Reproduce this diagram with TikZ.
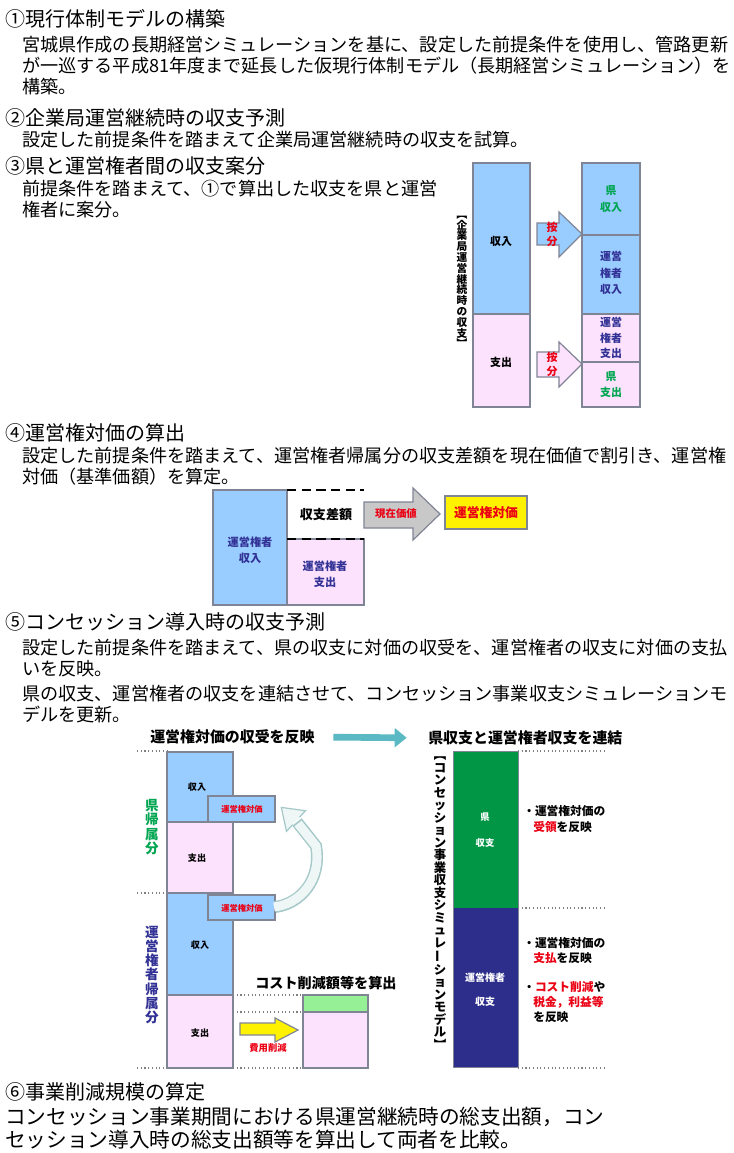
\documentclass[tikz,border=0pt]{standalone}
\usepackage{fontspec}
\usepackage{graphicx}
\setmainfont{Noto Sans CJK JP}
\usetikzlibrary{arrows.meta}
\definecolor{lblue}{RGB}{153,204,255}
\definecolor{lpink}{RGB}{253,226,253}
\definecolor{bgray}{RGB}{128,133,150}
\definecolor{kgreen}{RGB}{0,166,81}
\definecolor{knavy}{RGB}{50,50,150}
\definecolor{kred}{RGB}{235,0,20}
\definecolor{boxgreen}{RGB}{0,150,70}
\definecolor{boxnavy}{RGB}{45,45,140}
\definecolor{tealarr}{RGB}{90,185,195}
\definecolor{lgreen}{RGB}{150,240,150}
\definecolor{arrgray}{RGB}{200,200,200}
\definecolor{curvline}{RGB}{165,200,200}
\definecolor{curvfill}{RGB}{238,246,246}
\newcommand{\vbar}{\makebox[1em]{\rotatebox[origin=c]{90}{ー}}}
\tikzset{
  head/.style={anchor=west, inner sep=0, font=\fontsize{15}{18}\selectfont},
  body/.style={anchor=west, inner sep=0, font=\fontsize{13.6}{16}\selectfont},
  bigbody/.style={anchor=west, inner sep=0, font=\fontsize{15.5}{18}\selectfont},
  bbox/.style={draw=bgray, line width=1pt, fill=lblue},
  pbox/.style={draw=bgray, line width=1pt, fill=lpink},
  lab/.style={inner sep=0, align=center, font=\bfseries\fontsize{8.2}{12}\selectfont},
  tiny/.style={inner sep=0, align=center, font=\bfseries\fontsize{6.2}{7}\selectfont},
  vlab/.style={inner sep=0, align=center},
  dotl/.style={draw=gray, dotted, line width=0.8pt},
  title/.style={inner sep=0, font=\bfseries\fontsize{11.2}{13}\selectfont},
  note/.style={anchor=west, inner sep=0, font=\bfseries\fontsize{8.8}{10}\selectfont},
  blockarr/.style={draw=bgray, line width=0.9pt},
}
\begin{document}
\begin{tikzpicture}[x=0.75pt, y=-0.75pt]
\useasboundingbox (0,0) rectangle (733,1153);
\fill[white] (0,0) rectangle (733,1153);

% ---------- text sections ----------
\node[head] (h1) at (5,19) {①現行体制モデルの構築};
\node[body] (t11) at (22,45) {宮城県作成の長期経営シミュレーションを基に、設定した前提条件を使用し、管路更新};
\node[body] (t12) at (22,66) {が一巡する平成81年度まで延長した仮現行体制モデル（長期経営シミュレーション）を};
\node[body] (t13) at (22,87) {構築。};
\node[head] (h2) at (5,118) {②企業局運営継続時の収支予測};
\node[body] (t21) at (22,140) {設定した前提条件を踏まえて企業局運営継続時の収支を試算。};
\node[head] (h3) at (5,166) {③県と運営権者間の収支案分};
\node[body] (t31) at (22,189) {前提条件を踏まえて、①で算出した収支を県と運営};
\node[body] (t32) at (22,210) {権者に案分。};
\node[head] (h4) at (5,433) {④運営権対価の算出};
\node[body] (t41) at (22,456) {設定した前提条件を踏まえて、運営権者帰属分の収支差額を現在価値で割引き、運営権};
\node[body] (t42) at (22,477) {対価（基準価額）を算定。};
\node[head] (h5) at (5,622) {⑤コンセッション導入時の収支予測};
\node[body] (t51) at (22,648) {設定した前提条件を踏まえて、県の収支に対価の収受を、運営権者の収支に対価の支払};
\node[body] (t52) at (22,669) {いを反映。};
\node[body] (t53) at (22,694) {県の収支、運営権者の収支を連結させて、コンセッション事業収支シミュレーションモ};
\node[body] (t54) at (22,715) {デルを更新。};
\node[head] (h6) at (5,1092) {⑥事業削減規模の算定};
\node[bigbody] (t61) at (5,1117) {コンセッション事業期間における県運営継続時の総支出額，コン};
\node[bigbody] (t62) at (5,1140) {セッション導入時の総支出額等を算出して両者を比較。};

% ---------- section 3 diagram ----------
\draw[bbox] (473,163) rectangle (530,314);
\draw[pbox] (473,314) rectangle (530,407);
\node[lab] (s3in) at (501,241) {収入};
\node[lab] (s3out) at (501,362) {支出};
\node[vlab, font=\bfseries\fontsize{8}{8.1}\selectfont] (s3lab) at (462,282)
  {︻\\企\\業\\局\\運\\営\\継\\続\\時\\の\\収\\支\\︼};
\draw[bbox] (582,163) rectangle (640,235);
\draw[bbox] (582,235) rectangle (640,314);
\draw[pbox] (582,314) rectangle (640,362);
\draw[pbox] (582,362) rectangle (640,407);
\node[lab, text=kgreen, font=\bfseries\fontsize{8.2}{12.5}\selectfont] (kin) at (611,199) {県\\収入};
\node[lab, text=knavy, font=\bfseries\fontsize{8.2}{12.5}\selectfont] (oin) at (611,273) {運営\\権者\\収入};
\node[lab, text=knavy, font=\bfseries\fontsize{8.2}{11.5}\selectfont] (oout) at (611,338) {運営\\権者\\支出};
\node[lab, text=kgreen, font=\bfseries\fontsize{8.2}{12}\selectfont] (kout) at (611,385) {県\\支出};
\draw[blockarr, fill=lblue] (537,223) -- (559,223) -- (559,212) -- (582,234) -- (559,257) -- (559,245) -- (537,245) -- cycle;
\draw[blockarr, fill=lpink] (537,352) -- (559,352) -- (559,342) -- (582,364) -- (559,387) -- (559,377) -- (537,377) -- cycle;
\node[lab, text=kred, font=\bfseries\fontsize{8.2}{10.5}\selectfont] (anb1) at (552,234) {按\\分};
\node[lab, text=kred, font=\bfseries\fontsize{8.2}{10.5}\selectfont] (anb2) at (552,364) {按\\分};

% ---------- section 4 diagram ----------
\draw[bbox] (213,490) rectangle (287,605);
\draw[pbox] (287,539) rectangle (364,605);
\draw[line width=1.6pt, dash pattern=on 7pt off 4pt] (287,490) -- (364,490);
\draw[line width=1.6pt, dash pattern=on 7pt off 4pt] (287,539) -- (364,539);
\node[lab, text=knavy, font=\bfseries\fontsize{8.4}{12}\selectfont] (s4in) at (250,550) {運営権者\\収入};
\node[lab, text=knavy, font=\bfseries\fontsize{8.4}{12}\selectfont] (s4out) at (325,574) {運営権者\\支出};
\node[lab, font=\bfseries\fontsize{9.8}{12}\selectfont] (sagaku) at (326,515) {収支差額};
\draw[blockarr, fill=arrgray] (364,502) -- (413,502) -- (413,488) -- (440,514) -- (413,540) -- (413,528) -- (364,528) -- cycle;
\node[lab, text=kred, font=\bfseries\fontsize{7.8}{10}\selectfont] (genzai) at (396,514) {現在価値};
\draw[draw=bgray, line width=1pt, fill=yellow] (445,496) rectangle (527,529);
\node[lab, text=kred, font=\bfseries\fontsize{9.6}{12}\selectfont] (taika) at (486,513) {運営権対価};

% ---------- section 5 left ----------
\node[title, anchor=west] (ttl1) at (150,737) {運営権対価の収受を反映};
\node[title, anchor=west] (ttl2) at (428,738) {県収支と運営権者収支を連結};
\draw[tealarr, line width=5pt, -{Triangle[length=9pt, width=14pt]}, shorten <=14pt, shorten >=16pt] (ttl1.east) -- (ttl2.west);

\draw[dotl] (137,751) -- (167,751);
\draw[dotl] (137,893) -- (167,893);
\draw[dotl] (137,1068) -- (167,1068);
\draw[bbox] (167,752) rectangle (233,822);
\draw[pbox] (167,822) rectangle (233,893);
\draw[bbox] (167,893) rectangle (233,995);
\draw[pbox] (167,995) rectangle (233,1068);
\draw[bbox] (208,796) rectangle (275,822);
\draw[bbox] (208,895) rectangle (275,920);
\node[tiny, font=\bfseries\fontsize{6.8}{8}\selectfont] (l5in1) at (197,787) {収入};
\node[tiny, font=\bfseries\fontsize{6.8}{8}\selectfont] (l5out1) at (197,858) {支出};
\node[tiny, font=\bfseries\fontsize{6.8}{8}\selectfont] (l5in2) at (200,945) {収入};
\node[tiny, font=\bfseries\fontsize{6.8}{8}\selectfont] (l5out2) at (200,1033) {支出};
\node[tiny, text=kred] (tk1) at (242,809) {運営権対価};
\node[tiny, text=kred] (tk2) at (242,908) {運営権対価};
\node[vlab, text=kgreen, font=\bfseries\fontsize{10.2}{10.7}\selectfont] (kenkizoku) at (152,827) {県\\帰\\属\\分};
\node[vlab, text=knavy, font=\bfseries\fontsize{10.2}{10.7}\selectfont] (unkizoku) at (152,975) {運\\営\\権\\者\\帰\\属\\分};

% curved arrow from lower 運営権対価 to upper 運営権対価
\draw[curvline, line width=9pt, line cap=butt] (275,907) .. controls (300,904) and (322,880) .. (316,846) -- (297,822);
\draw[curvfill, line width=6.8pt, line cap=butt] (274,907) .. controls (300,904) and (322,880) .. (316,846) -- (298,823.5);
\fill[curvfill] (299.4,817.3) -- (305.5,810.7) -- (281.3,807.4) -- (286.5,831.3) -- (292.6,824.7) -- cycle;
\draw[curvline, line width=0.9pt, line join=miter] (299.4,817.3) -- (305.5,810.7) -- (281.3,807.4) -- (286.5,831.3) -- (292.6,824.7);

% cost reduction
\node[title, anchor=west, font=\bfseries\fontsize{10.6}{13}\selectfont] (cost) at (255,983) {コスト削減額等を算出};
\draw[dotl] (233,995) -- (303,995);
\draw[dotl] (233,1012) -- (303,1012);
\draw[dotl] (233,1068) -- (303,1068);
\draw[draw=bgray, line width=1pt, fill=lgreen] (303,995) rectangle (368,1012);
\draw[pbox] (303,1012) rectangle (368,1068);
\draw[blockarr, fill=yellow] (240,1023) -- (275,1023) -- (275,1018) -- (298,1030) -- (275,1042) -- (275,1035) -- (240,1035) -- cycle;
\node[tiny, text=kred, font=\bfseries\fontsize{7}{8}\selectfont] (hiyou) at (268,1048) {費用削減};

% ---------- section 5 right ----------
\fill[boxgreen] (453,751) rectangle (518,908);
\fill[boxnavy] (453,908) rectangle (518,1067);
\draw[bgray, line width=0.6pt] (453,751) rectangle (518,1067);
\draw[dotl] (518,751) -- (605,751);
\draw[dotl] (518,908) -- (605,908);
\draw[dotl] (518,1068) -- (605,1068);
\node[vlab, font=\bfseries\fontsize{9.3}{9.38}\selectfont] (cmodel) at (440,903)
  {︻\\コ\\ン\\セ\\ッ\\シ\\ョ\\ン\\事\\業\\収\\支\\シ\\ミ\\ュ\\レ\\\vbar\\シ\\ョ\\ン\\モ\\デ\\ル\\︼};
\node[tiny, text=white, font=\bfseries\fontsize{7}{19.5}\selectfont] (gk) at (485,830) {県\\収支};
\node[tiny, text=white, font=\bfseries\fontsize{7.5}{18}\selectfont] (gu) at (485,990) {運営権者\\収支};
\node[note] (n1a) at (523,811) {・運営権対価の};
\node[note] (n1b) at (533,827) {\textcolor{kred}{受領}を反映};
\node[note] (n2a) at (523,943) {・運営権対価の};
\node[note] (n2b) at (533,958) {\textcolor{kred}{支払}を反映};
\node[note] (n3a) at (523,987) {・\textcolor{kred}{コスト削減}や};
\node[note, text=kred] (n3b) at (533,1002) {税金，利益等};
\node[note] (n3c) at (533,1017) {を反映};
\end{tikzpicture}
\end{document}
